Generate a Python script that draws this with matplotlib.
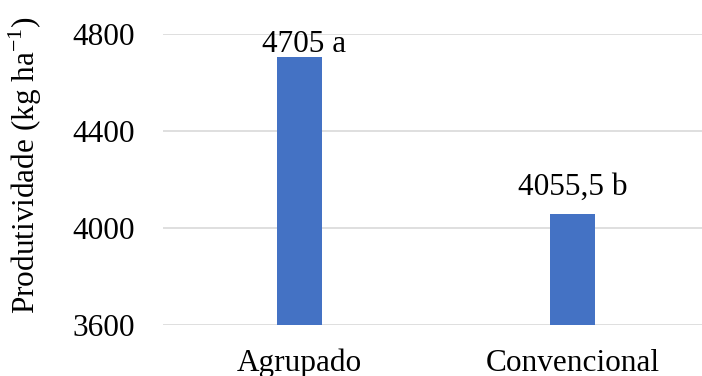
import matplotlib
matplotlib.use("Agg")
import matplotlib.pyplot as plt

categories = ["Agrupado", "Convencional"]
values = [4705, 4055.5]
bar_labels = ["4705 a", "4055,5 b"]
yticks = [3600, 4000, 4400, 4800]

plt.rcParams["font.family"] = ["Liberation Serif", "DejaVu Serif"]
FS = 22.5

fig = plt.figure(figsize=(7.02, 3.76), dpi=100)
ax = fig.add_axes([0.2322, 0.1356, 0.7778, 0.7753])

x = list(range(len(categories)))
ax.bar(x, values, width=0.165, color="#4472C4", zorder=3)

# label offsets (points): first label sits close to its bar, as in the source
offsets = [(3.5, 3.5), (0, 14)]
for xi, v, lab, off in zip(x, values, bar_labels, offsets):
    ax.annotate(lab, (xi, v), xytext=off, textcoords="offset points",
                ha="center", va="baseline", fontsize=FS, color="black")

ax.set_xlim(-0.5, 1.5)
ax.set_ylim(3600, 4800)
ax.set_yticks(yticks)
ax.set_xticks(x)
ax.set_xticklabels(categories)
ax.tick_params(axis="both", length=0, labelsize=FS, colors="black")
ax.tick_params(axis="y", pad=20)
ax.tick_params(axis="x", pad=17)
ax.yaxis.grid(True, color="#d9d9d9", lw=1.2, zorder=0)
ax.set_axisbelow(True)
for s in ax.spines.values():
    s.set_visible(False)

ax.set_ylabel("Produtividade (kg ha$^{\\mathregular{-1}}$)", fontsize=FS)
ax.yaxis.set_label_coords(-0.218, 0.55)

fig.savefig("out.png", dpi=100)
